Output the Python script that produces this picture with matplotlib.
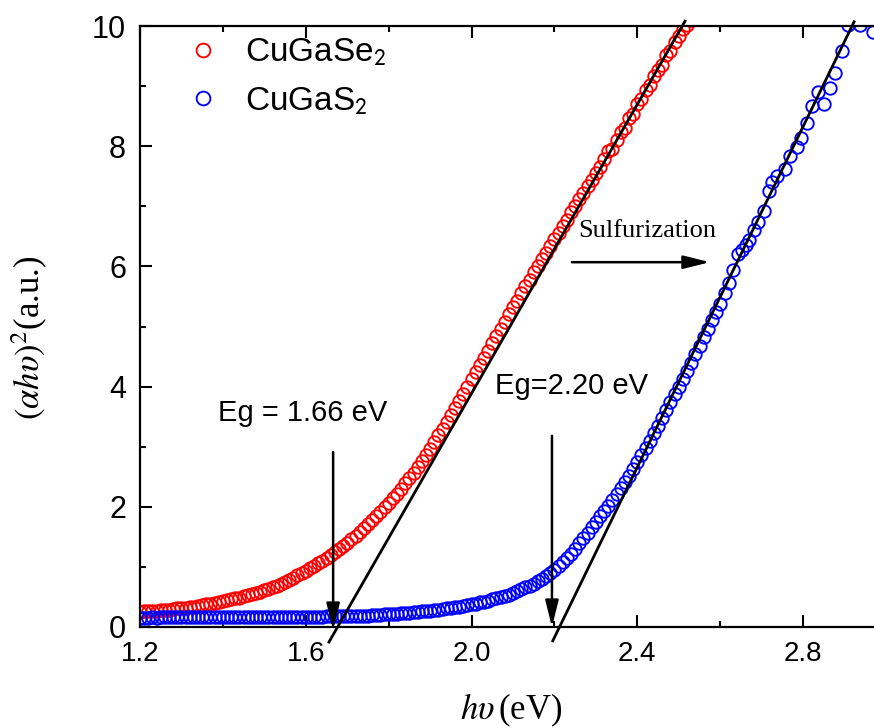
import numpy as np
import matplotlib
matplotlib.use('Agg')
import matplotlib.pyplot as plt
from matplotlib.ticker import MultipleLocator
from matplotlib.lines import Line2D

plt.rcParams['font.family'] = ['Liberation Sans', 'DejaVu Sans']
plt.rcParams['mathtext.fontset'] = 'stix'

# ---------------- data ----------------
# CuGaSe2 : x grid 1.20 ... 2.53 eV (step 0.01)
red_x = np.round(np.arange(1.20, 2.535, 0.01), 2)
red_y = [
    0.25, 0.26, 0.26, 0.27, 0.27, 0.28, 0.29, 0.29, 0.30, 0.31,
    0.31, 0.32, 0.33, 0.34, 0.35, 0.37, 0.38, 0.39, 0.40, 0.42,
    0.43, 0.45, 0.46, 0.48, 0.49, 0.51, 0.53, 0.55, 0.57, 0.59,
    0.61, 0.64, 0.66, 0.69, 0.72, 0.75, 0.78, 0.82, 0.86, 0.90,
    0.94, 0.98, 1.02, 1.06, 1.10, 1.15, 1.19, 1.24, 1.29, 1.35,
    1.40, 1.46, 1.52, 1.58, 1.64, 1.71, 1.78, 1.85, 1.92, 1.99,
    2.06, 2.14, 2.22, 2.30, 2.39, 2.48, 2.57, 2.67, 2.77, 2.87,
    2.97, 3.08, 3.19, 3.30, 3.41, 3.52, 3.64, 3.76, 3.88, 4.00,
    4.12, 4.24, 4.36, 4.48, 4.60, 4.72, 4.84, 4.96, 5.08, 5.20,
    5.32, 5.43, 5.55, 5.67, 5.78, 5.90, 6.01, 6.12, 6.23, 6.34,
    6.45, 6.56, 6.67, 6.78, 6.90, 7.01, 7.12, 7.22, 7.34, 7.44,
    7.55, 7.66, 7.78, 7.92, 7.96, 8.10, 8.24, 8.31, 8.47, 8.54,
    8.70, 8.78, 8.93, 9.01, 9.17, 9.27, 9.35, 9.51, 9.58, 9.74,
    9.83, 9.95, 10.02, 10.10,
]

# CuGaS2 : dense part, x grid 1.20 ... 2.60 eV (step 0.01)
blue_x_low = np.round(np.arange(1.20, 2.605, 0.01), 2)
blue_y_low = [
    0.15, 0.15, 0.15, 0.16, 0.15, 0.16, 0.16, 0.16, 0.16, 0.16,
    0.16, 0.16, 0.16, 0.17, 0.16, 0.17, 0.17, 0.17, 0.17, 0.17,
    0.17, 0.17, 0.17, 0.17, 0.17, 0.17, 0.17, 0.17, 0.17, 0.17,
    0.17, 0.17, 0.17, 0.17, 0.17, 0.17, 0.17, 0.17, 0.17, 0.17,
    0.17, 0.17, 0.17, 0.17, 0.17, 0.18, 0.18, 0.18, 0.18, 0.18,
    0.18, 0.18, 0.18, 0.19, 0.19, 0.19, 0.20, 0.20, 0.20, 0.21,
    0.21, 0.22, 0.22, 0.23, 0.23, 0.24, 0.25, 0.25, 0.26, 0.27,
    0.27, 0.28, 0.29, 0.30, 0.31, 0.32, 0.33, 0.34, 0.35, 0.37,
    0.38, 0.39, 0.41, 0.42, 0.44, 0.46, 0.48, 0.50, 0.52, 0.54,
    0.57, 0.60, 0.63, 0.66, 0.69, 0.72, 0.76, 0.80, 0.85, 0.90,
    0.95, 1.01, 1.08, 1.15, 1.22, 1.30, 1.39, 1.48, 1.57, 1.66,
    1.75, 1.84, 1.93, 2.02, 2.11, 2.21, 2.31, 2.41, 2.52, 2.63,
    2.74, 2.86, 2.98, 3.10, 3.22, 3.35, 3.48, 3.61, 3.74, 3.87,
    4.00, 4.13, 4.26, 4.40, 4.54, 4.68, 4.82, 4.96, 5.10, 5.24,
    5.38,
]
# CuGaS2 : sparser, noisy high-energy part
blue_x_high = [2.611, 2.621, 2.630, 2.643, 2.652, 2.661, 2.670, 2.682, 2.692,
               2.706, 2.718, 2.724, 2.737, 2.756, 2.769, 2.785, 2.795, 2.809,
               2.822, 2.836, 2.851, 2.865, 2.877, 2.894, 2.908, 2.922, 2.937,
               2.952, 2.968]
blue_y_high = [5.55, 5.72, 5.94, 6.20, 6.27, 6.36, 6.44, 6.60, 6.74,
               6.92, 7.25, 7.41, 7.50, 7.62, 7.84, 7.99, 8.14, 8.39,
               8.67, 8.90, 8.70, 8.97, 9.22, 9.58, 10.02, 10.15, 10.02,
               10.20, 9.90]

# linear (Tauc) fits, end points
fit_se_x = [1.656, 2.515]
fit_se_y = [-0.25, 10.08]
fit_s_x = [2.196, 2.923]
fit_s_y = [-0.23, 10.07]

eg_se = 1.666
eg_s = 2.194

labels = ['CuGaSe$_\\mathsf{2}$', 'CuGaS$_\\mathsf{2}$']
xticks = [1.2, 1.6, 2.0, 2.4, 2.8]
yticks = [0, 2, 4, 6, 8, 10]

# ---------------- figure ----------------
fig = plt.figure(figsize=(8.74, 7.28), dpi=100)
ax = fig.add_axes([140/874, 101/728, 746/874, 601/728])

mk = dict(marker='o', linestyle='none', markerfacecolor='none',
          markersize=9.0, markeredgewidth=1.35)
ax.plot(red_x, red_y, color='#ff0000', **mk)
ax.plot(np.concatenate([blue_x_low, blue_x_high]),
        np.concatenate([blue_y_low, blue_y_high]), color='#0000ff', **mk)

ax.plot(fit_se_x, fit_se_y, color='k', lw=2.0, clip_on=False, zorder=5)
ax.plot(fit_s_x, fit_s_y, color='k', lw=2.0, clip_on=False, zorder=5)

ax.set_xlim(1.2, 3.0)
ax.set_ylim(0, 10)
ax.set_xticks(xticks)
ax.set_xticklabels([f'{v:.1f}' for v in xticks])
ax.set_yticks(yticks)
ax.xaxis.set_minor_locator(MultipleLocator(0.2))
ax.yaxis.set_minor_locator(MultipleLocator(1))
ax.tick_params(which='both', direction='in', top=True, right=False, width=1.5)
ax.tick_params(which='major', length=8.5)
ax.tick_params(which='minor', length=4.5)
ax.tick_params(axis='x', which='major', labelsize=20, pad=10)
ax.tick_params(axis='y', which='major', labelsize=22, pad=10)
for s in ['left', 'bottom', 'top']:
    ax.spines[s].set_linewidth(1.6)
ax.spines['right'].set_visible(False)

ax.set_xlabel(r'$h\upsilon\,$(eV)', fontsize=25, family='Liberation Serif')
ax.set_ylabel(r'$(\alpha h\upsilon)^2$(a.u.)', fontsize=25, family='Liberation Serif')
ax.xaxis.set_label_coords(0.497, -0.107)
ax.yaxis.set_label_coords(-0.12, 0.482)

arr = dict(arrowstyle='-|>,head_length=1.6,head_width=0.4', color='k',
           lw=1.8, mutation_scale=10, shrinkA=0, shrinkB=0)
ax.annotate('', xy=(eg_se, -0.05), xytext=(eg_se, 2.91), arrowprops=arr,
            annotation_clip=False)
ax.annotate('', xy=(eg_s, 0.0), xytext=(eg_s, 3.18), arrowprops=arr,
            annotation_clip=False)
ax.annotate('', xy=(2.575, 6.07), xytext=(2.242, 6.07), arrowprops=arr)

ax.text(1.388, 3.43, 'Eg = 1.66 eV', fontsize=21, ha='left', va='baseline')
ax.text(2.056, 3.87, 'Eg=2.20 eV', fontsize=21, ha='left', va='baseline')
ax.text(2.257, 6.49, 'Sulfurization', fontsize=19, family='Liberation Serif',
        ha='left', va='baseline')

handles = [Line2D([], [], color='#ff0000', **mk), Line2D([], [], color='#0000ff', **mk)]
ax.legend(handles, labels, loc='upper left', bbox_to_anchor=(0.0643, 0.981),
          frameon=False, fontsize=24, markerscale=1.1, handlelength=0.9,
          handletextpad=0.81, labelspacing=0.5, borderpad=0, borderaxespad=0)

fig.savefig('out.png', dpi=100)
